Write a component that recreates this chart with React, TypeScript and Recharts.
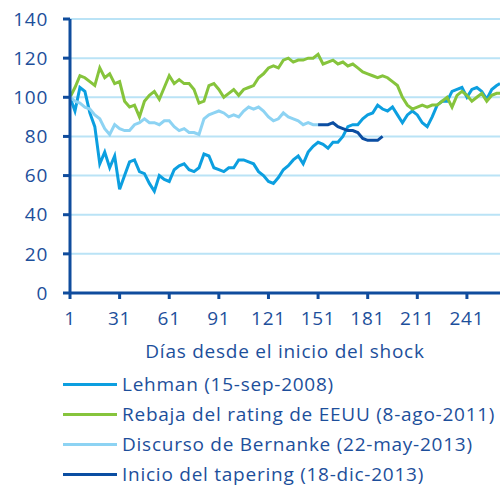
import React from 'react';
import { LineChart, Line, XAxis, YAxis, CartesianGrid } from 'recharts';

// days since the shock (sampled every 3 days)
const days = [
  1, 4, 7, 10, 13, 16, 19, 22, 25, 28, 31, 34, 37, 40, 43, 46, 49, 52, 55, 58,
  61, 64, 67, 70, 73, 76, 79, 82, 85, 88, 91, 94, 97, 100, 103, 106, 109,
  112, 115, 118, 121, 124, 127, 130, 133, 136, 139, 142, 145, 148, 151, 154, 157, 160, 163, 166, 169,
  172, 175, 178, 181, 184, 187, 190, 193, 196, 199, 202, 205, 208, 211, 214, 217, 220, 223, 226, 229,
  232, 235, 238, 241, 244, 247, 250, 253, 256, 259, 261,
];

const lehman = [
  100, 93, 105, 103, 92, 85, 66, 72, 64, 70, 53, 60, 67, 68, 62, 61, 56, 52, 60, 58,
  57, 63, 65, 66, 63, 62, 64, 71, 70, 64, 63, 62, 64, 64, 68, 68, 67,
  66, 62, 60, 57, 56, 59, 63, 65, 68, 70, 66, 72, 75, 77, 76, 74, 77, 77, 80, 85,
  86, 86, 89, 91, 92, 96, 94, 93, 95, 91, 87, 91, 93, 91, 87, 85, 90, 96, 98, 98,
  103, 104, 105, 100, 104, 105, 103, 99, 104, 106, 107,
];

const rebaja = [
  100, 105, 111, 110, 108, 106, 115, 110, 112, 107, 108, 98, 95, 96, 90, 98, 101, 103, 99, 105,
  111, 107, 109, 107, 107, 104, 97, 98, 106, 107, 104, 100, 102, 104, 101, 104, 105,
  106, 110, 112, 115, 116, 115, 119, 120, 118, 119, 119, 120, 120, 122, 117, 118, 119, 117, 118, 116,
  117, 115, 113, 112, 111, 110, 111, 110, 108, 106, 100, 96, 94, 95, 96, 95, 96, 96, 98, 100,
  95, 101, 103, 101, 98, 100, 102, 98, 101, 102, 102,
];

// ends when the tapering series takes over
const bernanke = [
  100, 98, 97, 95, 94, 91, 89, 84, 81, 86, 84, 83, 83, 86, 87, 89, 87, 87, 86, 88,
  88, 85, 83, 84, 82, 82, 81, 89, 91, 92, 93, 92, 90, 91, 90, 93, 95,
  94, 95, 93, 90, 88, 89, 92, 90, 89, 88, 86, 87, 86, 86,
];

const taperingFrom = 151;
const tapering = [86, 86, 86, 87, 85, 84, 83, 83, 82, 79, 78, 78, 78, 80];

const xTicks = [1, 31, 61, 91, 121, 151, 181, 211, 241];
const yTicks = [0, 20, 40, 60, 80, 100, 120, 140];

const series = [
  { key: 'lehman', name: 'Lehman (15-sep-2008)', color: '#0c9fe0' },
  { key: 'rebaja', name: 'Rebaja del rating de EEUU (8-ago-2011)', color: '#86c43c' },
  { key: 'bernanke', name: 'Discurso de Bernanke (22-may-2013)', color: '#8dd3f3' },
  { key: 'tapering', name: 'Inicio del tapering (18-dic-2013)', color: '#0b4ea2' },
];

const t0 = days.indexOf(taperingFrom);
const data = days.map((day, i) => ({
  day,
  lehman: lehman[i],
  rebaja: rebaja[i],
  bernanke: bernanke[i] ?? null,
  tapering: i >= t0 && i - t0 < tapering.length ? tapering[i - t0] : null,
}));

const ink = '#1d4f9b';
const axisBlue = '#0f4c9d';
const font = '"Open Sans", sans-serif';
const spacing = '0.75px';
const tickStyle = { fill: ink, fontSize: 19, fontFamily: font, letterSpacing: spacing };

export default function App() {
  return (
    <div style={{ position: 'absolute', left: 0, top: 0, width: 500, height: 488, background: '#fff', fontFamily: font, overflow: 'hidden' }}>
      <LineChart width={500} height={365} data={data} margin={{ top: 19, right: 0, bottom: 7, left: 0 }}>
        <CartesianGrid vertical={false} stroke="#bae3f6" strokeWidth={2} />
        <XAxis
          type="number"
          dataKey="day"
          domain={[1, 261]}
          ticks={xTicks}
          height={65}
          stroke={axisBlue}
          strokeWidth={3}
          tickSize={6}
          tickMargin={13}
          tick={tickStyle}
          interval={0}
          label={{ value: 'Días desde el inicio del shock', position: 'insideBottom', offset: 0, fill: ink, fontSize: 19, fontFamily: font, letterSpacing: spacing }}
        />
        <YAxis
          domain={[0, 140]}
          ticks={yTicks}
          width={70}
          stroke={axisBlue}
          strokeWidth={3}
          tickSize={7}
          tickMargin={15}
          tick={tickStyle}
          interval={0}
        />
        {series.map((s) => (
          <Line
            key={s.key}
            dataKey={s.key}
            stroke={s.color}
            strokeWidth={3}
            dot={false}
            type="linear"
            connectNulls={false}
            isAnimationActive={false}
          />
        ))}
      </LineChart>
      <div style={{ position: 'absolute', left: 63, top: 373 }}>
        {series.map((s) => (
          <div key={s.key} style={{ display: 'flex', alignItems: 'center', height: 22, marginBottom: 8, whiteSpace: 'nowrap' }}>
            <span style={{ display: 'inline-block', width: 54, height: 3, background: s.color, marginRight: 5 }} />
            <span style={{ color: ink, fontSize: 19, lineHeight: '22px', letterSpacing: spacing }}>{s.name}</span>
          </div>
        ))}
      </div>
    </div>
  );
}
